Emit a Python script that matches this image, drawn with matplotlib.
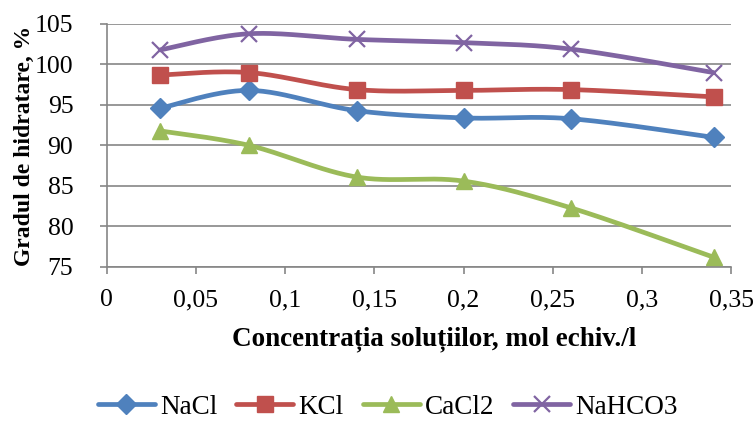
import matplotlib

matplotlib.use("Agg")
import matplotlib.pyplot as plt
import numpy as np

plt.rcParams["font.family"] = ["Liberation Serif", "DejaVu Serif"]

conc = [0.03, 0.08, 0.14, 0.20, 0.26, 0.34]
nacl = [94.6, 96.8, 94.3, 93.4, 93.3, 91.0]
kcl = [98.7, 99.0, 96.9, 96.8, 96.9, 96.0]
cacl2 = [91.8, 90.0, 86.1, 85.6, 82.3, 76.2]
nahco3 = [101.8, 103.8, 103.1, 102.7, 101.9, 99.0]

x_ticks = [0, 0.05, 0.1, 0.15, 0.2, 0.25, 0.3, 0.35]
x_tick_labels = ["0", "0,05", "0,1", "0,15", "0,2", "0,25", "0,3", "0,35"]
y_ticks = [75, 80, 85, 90, 95, 100, 105]


def smooth(x, y, n=30):
    # Excel-like smoothed line: cubic bezier with catmull-rom tangents
    p = np.column_stack([x, y])
    pts = []
    for i in range(len(p) - 1):
        p0 = p[max(i - 1, 0)]
        p1 = p[i]
        p2 = p[i + 1]
        p3 = p[min(i + 2, len(p) - 1)]
        c1 = p1 + (p2 - p0) / 6
        c2 = p2 - (p3 - p1) / 6
        t = np.linspace(0, 1, n)[:, None]
        seg = ((1 - t) ** 3 * p1 + 3 * (1 - t) ** 2 * t * c1
               + 3 * (1 - t) * t ** 2 * c2 + t ** 3 * p2)
        pts.append(seg if i == 0 else seg[1:])
    pts = np.vstack(pts)
    return pts[:, 0], pts[:, 1]


fig = plt.figure(figsize=(7.54, 4.21), dpi=100)
ax = fig.add_axes([0.1414, 0.366, 0.8286, 0.577])

series = [
    ("NaCl", nacl, "#4F81BD", "D", 10, 1),
    ("KCl", kcl, "#C0504D", "s", 11, 1),
    ("CaCl2", cacl2, "#9BBB59", "^", 12, 1),
    ("NaHCO3", nahco3, "#8064A2", "x", 12, 1.6),
]
handles = []
for name, vals, color, marker, ms, mew in series:
    sx, sy = smooth(conc, vals)
    ax.plot(sx, sy, color=color, lw=3.4, solid_capstyle="round", zorder=3)
    ax.plot(conc, vals, linestyle="none", marker=marker, color=color,
            markersize=ms, markeredgewidth=mew, zorder=4)
    h, = plt.plot([], [], color=color, lw=3.4, marker=marker, markersize=ms,
                  markeredgewidth=mew, solid_capstyle="round")
    handles.append((h, name))

ax.set_xlim(0, 0.35)
ax.set_ylim(75, 105)
ax.set_xticks(x_ticks)
ax.set_xticklabels(x_tick_labels)
ax.set_yticks(y_ticks)
ax.yaxis.grid(True, color="#868686", lw=1.2)
ax.set_axisbelow(True)
for s in ["top", "right"]:
    ax.spines[s].set_visible(False)
for s in ["left", "bottom"]:
    ax.spines[s].set_color("#868686")
    ax.spines[s].set_linewidth(1.2)
ax.tick_params(axis="both", direction="out", length=5, color="#868686",
               labelsize=18.5, width=1.2)
ax.tick_params(axis="x", pad=11)
ax.tick_params(axis="y", pad=19)

ax.set_xlabel("Concentrația soluțiilor, mol echiv./l", fontsize=19.5,
              fontweight="bold")
ax.xaxis.set_label_coords(0.524, -0.245)
ax.set_ylabel("Gradul de hidratare, %", fontsize=17, fontweight="bold",
              labelpad=0)

fig.legend([h for h, _ in handles], [n for _, n in handles],
           loc="center", bbox_to_anchor=(388 / 754, 1 - 407 / 421), ncol=4,
           frameon=False, fontsize=19.5, handlelength=2.1, columnspacing=0.7,
           handletextpad=0.2)

fig.savefig("out.png", dpi=100)
